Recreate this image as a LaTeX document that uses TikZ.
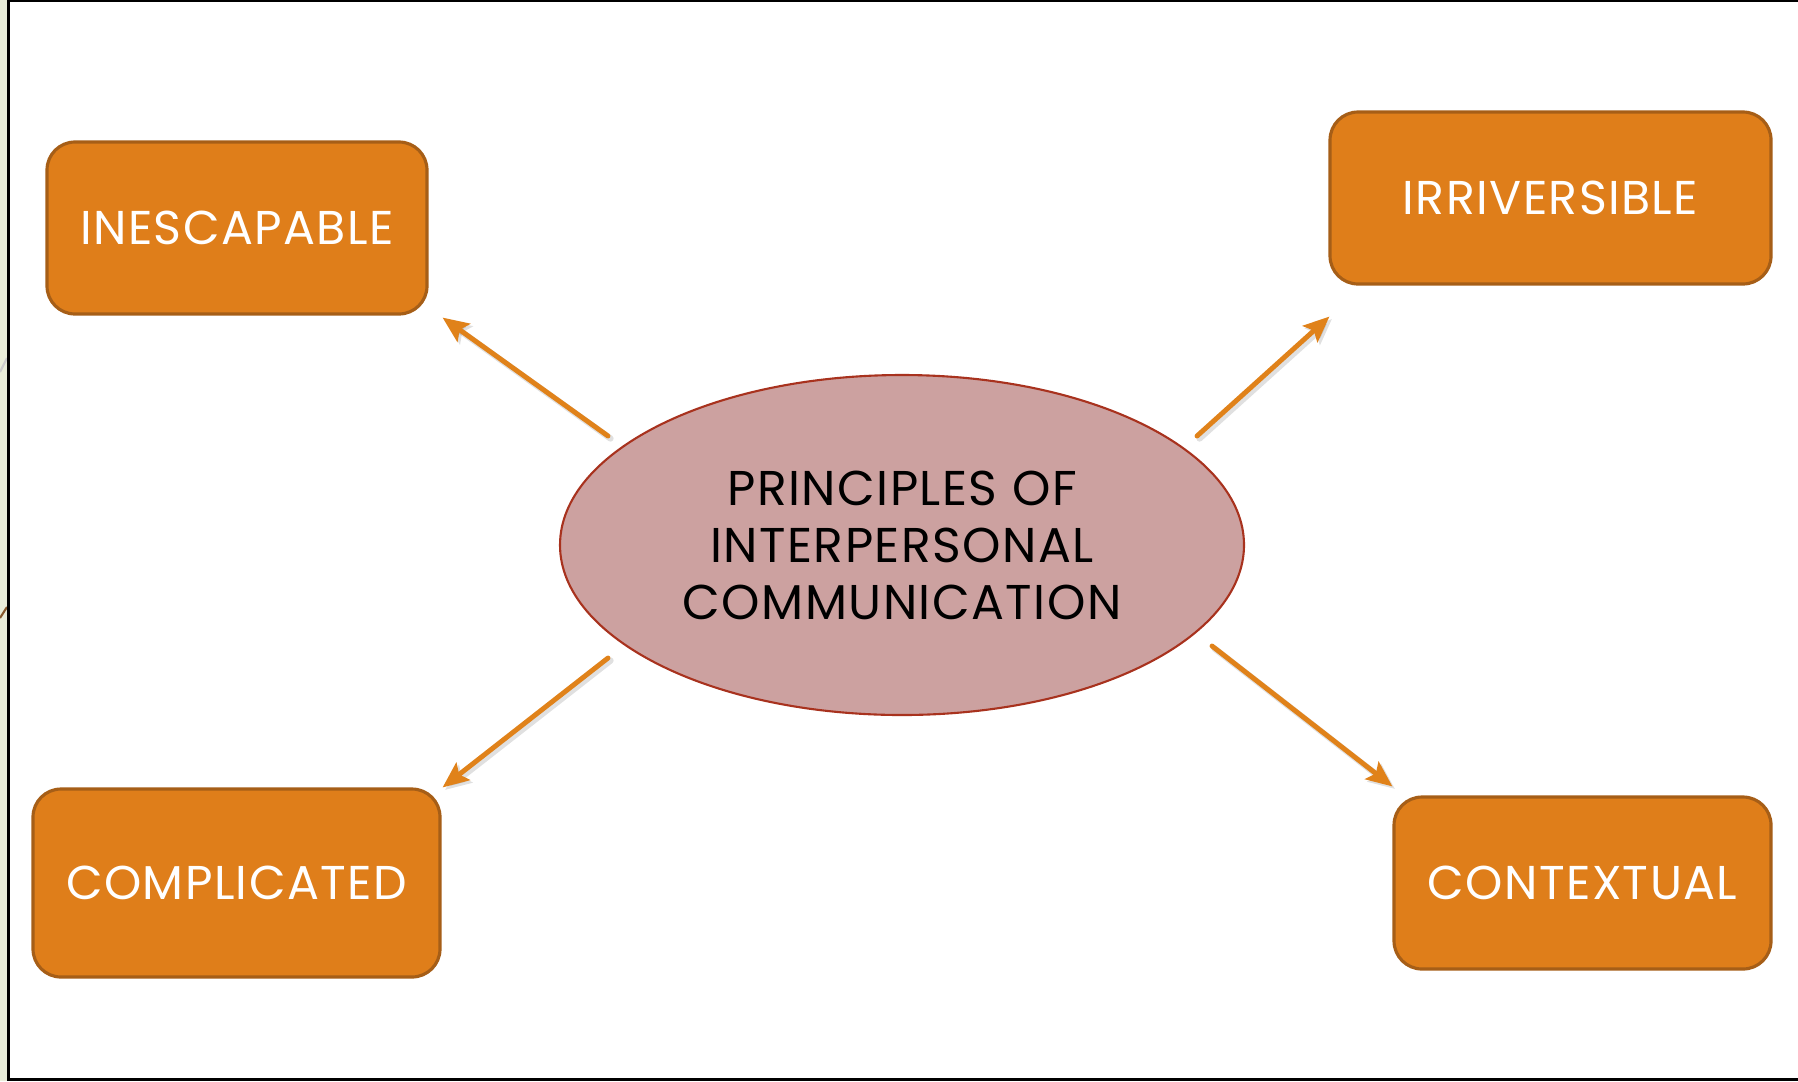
\documentclass[tikz,border=0pt]{standalone}
\usepackage{fontspec}
\setmainfont{Poppins}[LetterSpace=3]
\usepackage{tikz}
\usetikzlibrary{arrows.meta,positioning,shapes.geometric,calc}
\definecolor{boxorange}{HTML}{DF7E1A}
\definecolor{boxedge}{HTML}{A65E17}
\definecolor{hubfill}{HTML}{CCA1A0}
\definecolor{hubedge}{HTML}{A8321E}
\definecolor{arrorange}{HTML}{E0821A}
\definecolor{stripgreen}{HTML}{E9EDD9}

\begin{document}
\begin{tikzpicture}[
  x=0.1mm, y=-0.1mm,
  box/.style={draw=boxedge, line width=0.9pt, fill=boxorange, rounded corners=2.8mm, text=white, inner sep=0pt, font=\fontsize{13.5}{16}\selectfont},
  hub/.style={ellipse, draw=hubedge, line width=0.6pt, fill=hubfill, minimum width=68.4mm, minimum height=34mm, inner sep=0pt, align=center, font=\fontsize{13.9}{16.2}\selectfont},
  arr/.style={-{Stealth[length=2.6mm, width=2.2mm, inset=0.5mm]}, line width=1.4pt, draw=arrorange, line cap=round},
  arrshade/.style={arr, draw=black, opacity=0.12, line width=1.8pt},
]
  \useasboundingbox (0,0) rectangle (1798,1081);

  % Frame
  \fill[stripgreen] (0,0) rectangle (7,1081);
  \draw[black!20, line width=0.6pt] (0,372) -- (7,358);
  \draw[brown!70!black, line width=0.6pt] (0,618) -- (7,607);
  \draw[line width=0.9pt] (8.5,0) -- (8.5,1081);
  \draw[line width=0.7pt] (7,1) -- (1798,1);
  \draw[line width=0.9pt] (7,1079.5) -- (1798,1079.5);

  % Centre
  \node[hub] (hub) at (902,545) {PRINCIPLES OF\\INTERPERSONAL\\COMMUNICATION};

  % Principles
  \node[box, minimum width=38mm, minimum height=17.2mm] (inesc) at (237,228) {INESCAPABLE};
  \node[box, minimum width=44.1mm, minimum height=17.2mm] (irrev) at (1550.5,198) {IRRIVERSIBLE};
  \node[box, minimum width=40.7mm, minimum height=18.8mm] (compl) at (236.5,883) {COMPLICATED};
  \node[box, minimum width=37.7mm, minimum height=17.2mm] (ctext) at (1582.5,883) {CONTEXTUAL};

  % Arrow starts
  \coordinate (s1) at (608,436);
  \coordinate (s2) at (1197,436);
  \coordinate (s3) at (608,658);
  \coordinate (s4) at (1212,646);

  % Arrow ends
  \coordinate (e1) at ($(inesc.south east)+(14,2)$);
  \coordinate (e2) at ($(irrev.south west)+(1,31)$);
  \coordinate (e3) at ($(compl.north east)+(1,0)$);
  \coordinate (e4) at ($(ctext.north west)+(0,-9)$);

  % Shadows
  \foreach \i in {1,...,4}
    \draw[arrshade, transform canvas={xshift=0.25mm, yshift=-0.25mm}] (s\i) -- (e\i);

  \draw[arr] (s1) -- (e1);
  \draw[arr] (s2) -- (e2);
  \draw[arr] (s3) -- (e3);
  \draw[arr] (s4) -- (e4);
\end{tikzpicture}
\end{document}
